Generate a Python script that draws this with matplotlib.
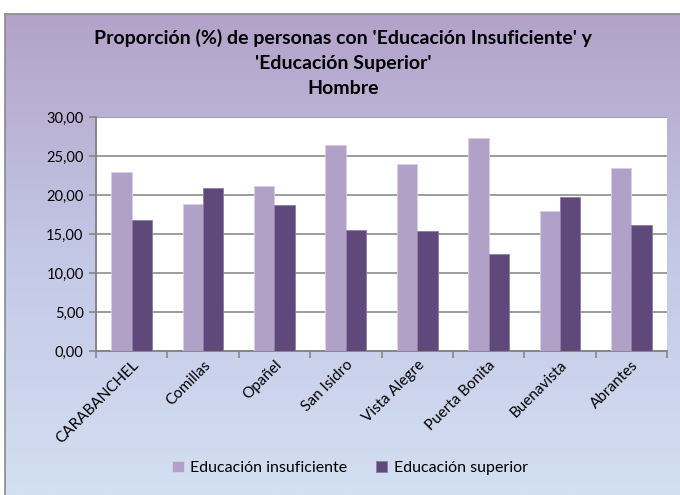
import numpy as np
import matplotlib
matplotlib.use("Agg")
import matplotlib.pyplot as plt
import matplotlib.transforms as mtransforms
from matplotlib.colors import LinearSegmentedColormap
from matplotlib.ticker import FixedLocator, FuncFormatter

plt.rcParams['font.family'] = ['Lato', 'DejaVu Sans']

barrios = ['CARABANCHEL', 'Comillas', 'Opañel', 'San Isidro', 'Vista Alegre',
           'Puerta Bonita', 'Buenavista', 'Abrantes']
insuficiente = [22.9, 18.9, 21.2, 26.4, 24.0, 27.3, 18.0, 23.5]
superior = [16.8, 20.9, 18.7, 15.5, 15.4, 12.4, 19.8, 16.2]
series_names = ['Educación insuficiente', 'Educación superior']
colores = ['#B1A0C7', '#5F497A']
titulo = "Proporción (%) de personas con 'Educación Insuficiente' y\n'Educación Superior'\nHombre"

fig = plt.figure(figsize=(6.8, 4.95), dpi=100)

# fondo degradado del area del grafico
bg = fig.add_axes([5 / 680, 0, 1 - 5 / 680, 1 - 14 / 495], zorder=-10)
cmap = LinearSegmentedColormap.from_list('fondo', ['#B3A2C9', '#C3C8E6', '#D3DFF2'])
bg.imshow(np.linspace(0, 1, 256).reshape(-1, 1), aspect='auto', cmap=cmap,
          extent=[0, 1, 0, 1])
bg.set_xticks([])
bg.set_yticks([])
for s in ['right', 'bottom']:
    bg.spines[s].set_visible(False)
for s in ['left', 'top']:
    bg.spines[s].set_color('#8a8a8a')
    bg.spines[s].set_linewidth(1.2)

ax = fig.add_axes([96 / 680, 1 - 351 / 495, (667 - 96) / 680, (351 - 117) / 495])
ax.set_facecolor('white')

x = np.arange(len(barrios))
w = 1 / 3.5
ax.bar(x - w / 2, insuficiente, w, color=colores[0], edgecolor='#D9CFE6',
       linewidth=0.6, label=series_names[0], zorder=3)
ax.bar(x + w / 2, superior, w, color=colores[1], edgecolor='#8E7BA8',
       linewidth=0.6, label=series_names[1], zorder=3)

ax.set_xlim(-0.5, len(barrios) - 0.5)
ax.set_ylim(0, 30)
ax.set_yticks(np.arange(0, 31, 5))
ax.yaxis.set_major_formatter(FuncFormatter(lambda v, p: f'{v:.2f}'.replace('.', ',')))
ax.yaxis.grid(True, color='#8c8c8c', linewidth=1.2, zorder=0)

ax.set_xticks(x)
ax.set_xticklabels(barrios, rotation=45, ha='right', rotation_mode='anchor')
desplaza = mtransforms.ScaledTranslation(14 / 100, 0, fig.dpi_scale_trans)
for lab in ax.get_xticklabels():
    lab.set_transform(lab.get_transform() + desplaza)
ax.xaxis.set_minor_locator(FixedLocator(np.arange(-0.5, len(barrios), 1)))
ax.tick_params(axis='x', which='major', length=0, pad=5, labelsize=11)
ax.tick_params(axis='x', which='minor', length=5, color='#868686', width=1.2)
ax.tick_params(axis='y', length=5, color='#868686', width=1.2, labelsize=10.5, pad=4)

for s in ['top', 'right']:
    ax.spines[s].set_visible(False)
for s in ['left', 'bottom']:
    ax.spines[s].set_color('#868686')
    ax.spines[s].set_linewidth(1.4)

fig.text(343 / 680, 1 - 63 / 495, titulo, ha='center', va='center',
         fontsize=14, fontweight='bold', linespacing=1.6)

fig.legend(loc='center', bbox_to_anchor=(350 / 680, 1 - 468 / 495), ncol=2,
           frameon=False, fontsize=11.5, handlelength=0.7, handleheight=0.7,
           columnspacing=1.8, handletextpad=0.4)

fig.savefig('out.png', dpi=100)
